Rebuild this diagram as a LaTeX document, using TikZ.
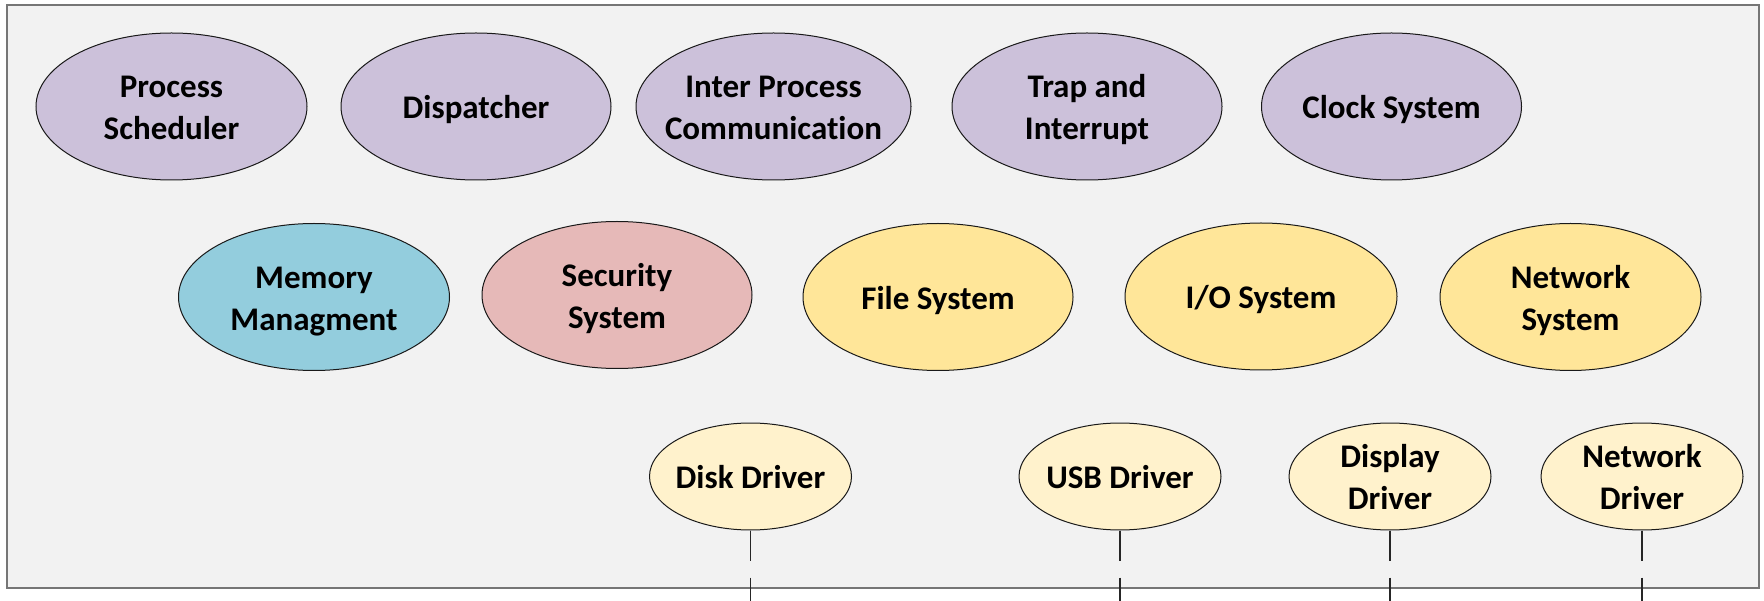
\documentclass[tikz,border=0pt]{standalone}
\usepackage{fontspec}
\setmainfont{Carlito}[Ligatures=CommonOff]
\usetikzlibrary{shapes.geometric}

\definecolor{panel}{HTML}{F2F2F2}
\definecolor{panelline}{HTML}{767676}
\definecolor{core}{HTML}{CCC1DA}
\definecolor{memcol}{HTML}{93CDDD}
\definecolor{seccol}{HTML}{E6B9B8}
\definecolor{syscol}{HTML}{FFE699}
\definecolor{drvcol}{HTML}{FFF2CC}

% centred label with no size of its own, so the text never widens its ellipse
\newcommand{\lbl}[1]{\makebox[0pt]{\raisebox{-10pt}[0pt][0pt]{\begin{tabular}[c]{@{}c@{}}#1\end{tabular}}}}

\tikzset{
  oval/.style={ellipse, draw=black!90, line width=1pt, inner sep=0pt,
    font=\fontsize{33}{42}\selectfont\bfseries, text=black},
  bigoval/.style={oval, minimum width=270pt, minimum height=147pt},
  drvoval/.style={oval, minimum width=202pt, minimum height=107pt},
  drvlink/.style={draw=black!85, line width=1.3pt, dash pattern=on 30pt off 17pt}
}

\begin{document}
\begin{tikzpicture}[x=1pt,y=-1pt]
  \useasboundingbox (0,0) rectangle (1764,601);

  % outer panel
  \draw[fill=panel, draw=panelline, line width=2.5pt] (7,5) rectangle (1759,588);

  % scheduling and control services
  \node[bigoval, fill=core, minimum width=271pt] (sched) at (171.5,106.5) {\lbl{Process\\Scheduler}};
  \node[bigoval, fill=core] (disp) at (476,106.5) {\lbl{Dispatcher}};
  \node[bigoval, fill=core, minimum width=275pt] (ipc) at (773.5,106.5) {\lbl{Inter Process\\Communication}};
  \node[bigoval, fill=core] (trap) at (1087,106.5) {\lbl{Trap and\\Interrupt}};
  \node[bigoval, fill=core, minimum width=260pt] (clock) at (1391.5,106.5) {\lbl{Clock System}};

  % resource management services
  \node[bigoval, fill=memcol, minimum width=271pt] (mem) at (314,297) {\lbl{Memory\\Managment}};
  \node[bigoval, fill=seccol] (sec) at (617,295) {\lbl{Security\\System}};
  \node[bigoval, fill=syscol] (fs) at (938,297) {\lbl{File System}};
  \node[bigoval, fill=syscol, minimum width=272pt] (io) at (1261,296.5) {\lbl{I/O System}};
  \node[bigoval, fill=syscol, minimum width=261pt] (net) at (1570.5,297) {\lbl{Network\\System}};

  % device drivers
  \node[drvoval, fill=drvcol] (disk) at (750.5,476.5) {\lbl{Disk Driver}};
  \node[drvoval, fill=drvcol] (usb) at (1120,476.5) {\lbl{USB Driver}};
  \node[drvoval, fill=drvcol] (dispdrv) at (1390,476.5) {\lbl{Display\\Driver}};
  \node[drvoval, fill=drvcol] (netdrv) at (1642,476.5) {\lbl{Network\\Driver}};

  % links leaving the panel towards the hardware
  \coordinate (diskhw) at (750.5,601);
  \coordinate (usbhw) at (1120,601);
  \coordinate (disphw) at (1390,601);
  \coordinate (nethw) at (1642,601);
  \draw[drvlink] (disk.south) -- (diskhw);
  \draw[drvlink] (usb.south) -- (usbhw);
  \draw[drvlink] (dispdrv.south) -- (disphw);
  \draw[drvlink] (netdrv.south) -- (nethw);
\end{tikzpicture}
\end{document}
